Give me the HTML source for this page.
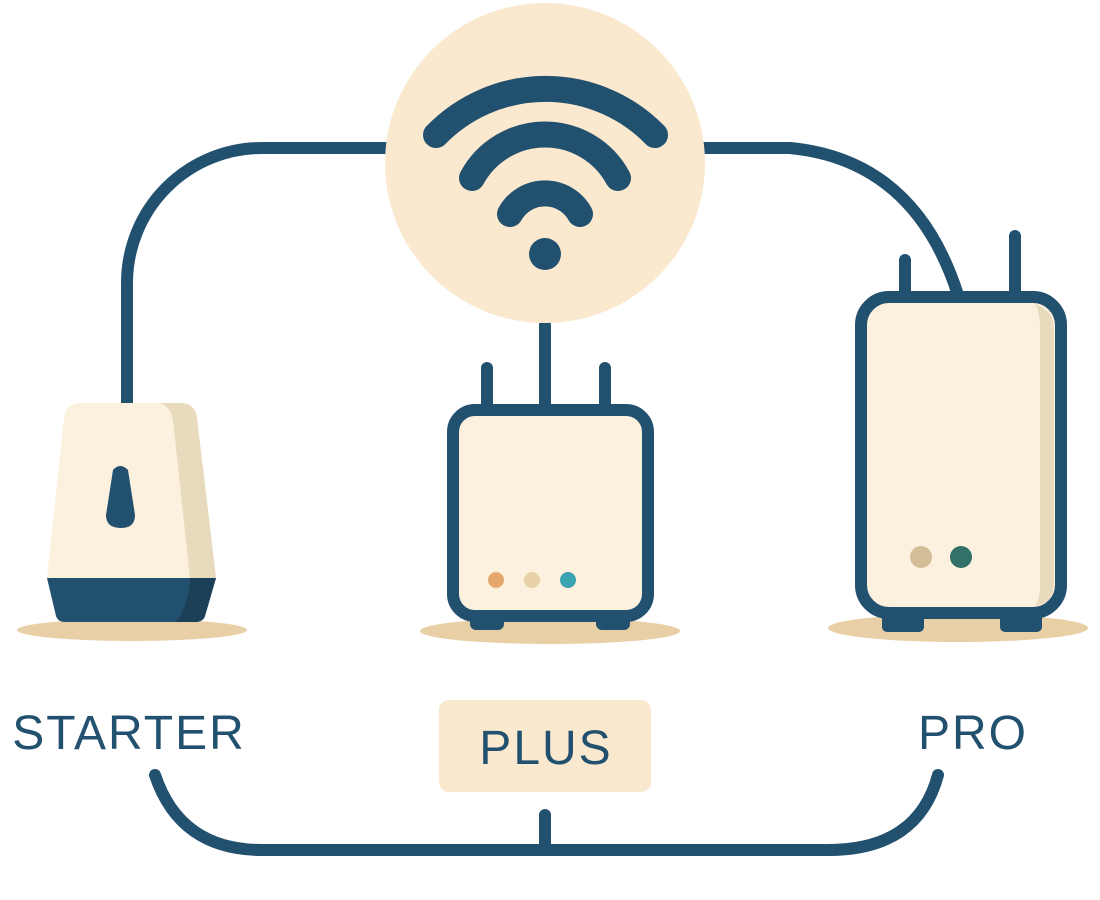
<!DOCTYPE html>
<html><head><meta charset="utf-8"><style>html,body{margin:0;padding:0;background:#fff}svg{display:block}</style></head><body>
<svg width="1100" height="900" viewBox="0 0 1100 900" xmlns="http://www.w3.org/2000/svg">
<g fill="none" stroke="#22506f" stroke-width="12" stroke-linecap="round">
<path d="M385,148 H262 A135,135 0 0 0 127,283 V402"/>
<path d="M705,148 H790 Q915,160 958,295"/>
<path d="M545,325 V405"/>
<path d="M155,775 Q180,850 262,850 H828 Q918,850 938,775"/>
<path d="M545,815 V850"/>
</g>
<circle cx="545" cy="163" r="160" fill="#fae8cf"/>
<g fill="none" stroke="#22506f" stroke-width="26" stroke-linecap="round">
<path d="M436,135 A153,153 0 0 1 655,135"/>
<path d="M472,178 A83,83 0 0 1 618,178"/>
<path d="M510,214 A40,40 0 0 1 580,214"/>
</g>
<circle cx="545" cy="254" r="16" fill="#22506f"/>
<!-- starter -->
<ellipse cx="132" cy="630" rx="115" ry="11" fill="#e8cfa5"/>
<path d="M80,403 H180 Q195,403 197,418 L216,578 H47 L64,418 Q66,403 80,403 Z" fill="#fcf1df"/>
<path d="M155,403 H180 Q195,403 197,418 L216,578 H190 L173,420 Q170,403 155,403 Z" fill="#e8dabd"/>
<path d="M47,578 H216 L205,616 Q203,622 195,622 H65 Q58,622 56,616 Z" fill="#22506f"/>
<path d="M190,578 H216 L205,616 Q203,622 195,622 H175 Q188,610 190,578 Z" fill="#1c4058"/>
<path d="M113,470 Q120,462 128,470 L135,515 Q135,528 121,528 Q106,528 106,515 Z" fill="#22506f"/>
<!-- plus -->
<ellipse cx="550" cy="631" rx="130" ry="13" fill="#e8cfa5"/>
<g stroke="#22506f" stroke-width="12" stroke-linecap="round"><path d="M487,368 V405M605,368 V405"/></g>
<rect x="470" y="612" width="34" height="18" rx="6" fill="#22506f"/>
<rect x="596" y="612" width="34" height="18" rx="6" fill="#22506f"/>
<rect x="453" y="410" width="195" height="206" rx="22" fill="#fcf1df" stroke="#22506f" stroke-width="12"/>
<circle cx="496" cy="580" r="8" fill="#e5a66e"/><circle cx="532" cy="580" r="8" fill="#e7cfa8"/><circle cx="568" cy="580" r="8" fill="#3aa3b0"/>
<!-- pro -->
<ellipse cx="958" cy="628" rx="130" ry="14" fill="#e8cfa5"/>
<g stroke="#22506f" stroke-width="12" stroke-linecap="round"><path d="M905,260 V295M1015,236 V295"/></g>
<rect x="882" y="612" width="42" height="20" rx="5" fill="#22506f"/>
<rect x="1000" y="612" width="42" height="20" rx="5" fill="#22506f"/>
<rect x="861" y="297" width="200" height="316" rx="28" fill="#fcf1df" stroke="#22506f" stroke-width="12"/>
<path d="M1035,304 Q1054,310 1054,330 V583 Q1054,603 1035,606 Q1040,600 1040,585 V330 Q1040,310 1035,304 Z" fill="#e8dabd"/>
<circle cx="921" cy="557" r="11" fill="#d3bd97"/><circle cx="961" cy="557" r="11" fill="#32706a"/>
<!-- labels -->
<g font-family="Liberation Sans, sans-serif" font-size="48" fill="#22506f" text-anchor="middle" letter-spacing="2">
<text x="129" y="749">STARTER</text>
<rect x="439" y="700" width="212" height="92" rx="10" fill="#fae8cf"/>
<text x="546" y="764">PLUS</text>
<text x="973" y="749">PRO</text>
</g>
</svg>
</body></html>
